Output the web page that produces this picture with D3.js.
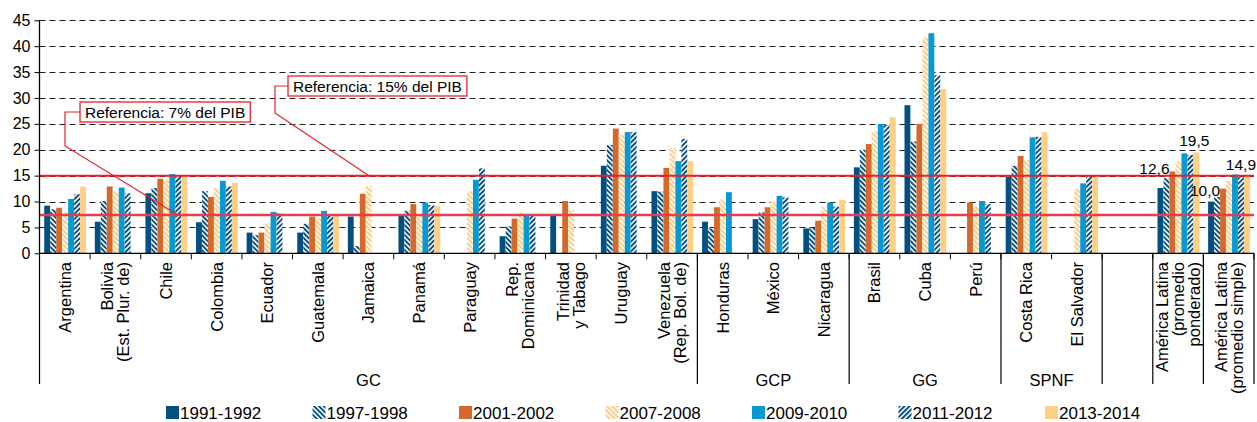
<!DOCTYPE html>
<html>
<head>
<meta charset="utf-8">
<script src="https://cdn.jsdelivr.net/npm/d3@7"></script>
<style>
  body { margin: 0; background: #fff; }
  svg { display: block; font-family: "Liberation Sans", Arial, sans-serif; }
</style>
</head>
<body>
<svg width="1257" height="422"></svg>
<script>
// categories (\n = line break in the rotated label)
var categories = ['Argentina', 'Bolivia\n(Est. Plur. de)', 'Chile', 'Colombia', 'Ecuador', 'Guatemala',
  'Jamaica', 'Panamá', 'Paraguay', 'Rep.\nDominicana', 'Trinidad\ny Tabago', 'Uruguay',
  'Venezuela\n(Rep. Bol. de)', 'Honduras', 'México', 'Nicaragua', 'Brasil', 'Cuba', 'Perú',
  'Costa Rica', 'El Salvador', '', 'América Latina\n(promedio\nponderado)', 'América Latina\n(promedio simple)'];

var groupNames = ['GC', 'GCP', 'GG', 'SPNF', '', '', ''];
var groupSizes = [13, 3, 3, 2, 1, 1, 1];

var seriesNames = ['1991-1992', '1997-1998', '2001-2002', '2007-2008', '2009-2010', '2011-2012', '2013-2014'];

var s9192 = [9.2, 6.1, 11.6, 6.0, 4.0, 4.0, 7.1, 7.5, null, 3.3, 7.4, 16.9, 12.0, 6.1, 6.6, 4.8, 16.6, 28.6, null, 14.8, null, null, 12.6, 10.0];
var s9798 = [8.5, 10.1, 12.6, 12.0, 3.5, 5.7, 1.4, 8.2, null, 5.2, null, 20.9, 11.9, 4.8, 7.9, 4.9, 20.0, 21.6, null, 16.9, null, null, 14.5, 10.9];
var s0102 = [8.8, 12.9, 14.4, 10.9, 4.0, 7.1, 11.5, 9.5, null, 6.7, 10.1, 24.1, 16.5, 8.9, 8.9, 6.3, 21.1, 25.0, 9.8, 18.8, null, null, 15.8, 12.5];
var s0708 = [8.0, 11.8, 14.2, 12.6, 5.8, 6.8, 13.0, 7.4, 12.0, 7.9, 8.4, 22.9, 20.3, 10.4, 10.0, 9.0, 23.5, 41.7, 9.0, 18.0, 12.4, null, 17.8, 14.0];
var s0910 = [10.5, 12.7, 15.3, 14.0, 8.0, 8.2, null, 9.8, 14.2, 7.4, null, 23.4, 17.8, 11.8, 11.1, 9.8, 25.0, 42.5, 10.1, 22.4, 13.5, null, 19.3, 15.2];
var s1112 = [11.4, 11.6, 14.8, 12.9, 7.7, 7.4, null, 9.3, 16.4, 7.2, null, 23.4, 22.1, null, 10.8, 9.0, 24.8, 34.4, 9.5, 22.5, 14.8, null, 19.0, 14.7];
var s1314 = [12.9, null, 15.0, 13.6, null, 7.4, null, 9.1, null, null, null, null, 17.8, null, null, 10.3, 26.3, 31.7, null, 23.4, 14.8, null, 19.5, 14.9];
var seriesValues = [s9192, s9798, s0102, s0708, s0910, s1112, s1314];

var yTicks = [0, 5, 10, 15, 20, 25, 30, 35, 40, 45];
var refLines = [15, 7.4];

// value labels: [category index, series index, text]
var valueLabels = [[22, 0, '12,6'], [22, 6, '19,5'], [23, 0, '10,0'], [23, 6, '14,9']];

var colors = ['#034f80', '#034f80', '#d5692b', '#fdca7e', '#0699d3', '#034f80', '#fecf85'];
var hatch = [null, 'back', null, 'back', null, 'fwd', null];

var svg = d3.select('svg');
var plotL = 39.5, plotR = 1254, plotT = 20.3, plotB = 253.3;

var x = d3.scaleBand().domain(d3.range(categories.length)).range([plotL, plotR]).padding(0);
var xs = d3.scaleBand().domain(d3.range(seriesNames.length)).range([4.6, x.bandwidth() - 4]).padding(0.02);
var y = d3.scaleLinear().domain([0, 45]).range([plotB, plotT]);

// hatch patterns
var defs = svg.append('defs');
function makePattern(id, color, angle) {
  var p = defs.append('pattern').attr('id', id)
    .attr('patternUnits', 'userSpaceOnUse')
    .attr('width', 3.5).attr('height', 10)
    .attr('patternTransform', 'rotate(' + angle + ')');
  p.append('rect').attr('width', 3.5).attr('height', 10).attr('fill', '#fff');
  p.append('rect').attr('width', 1.9).attr('height', 10).attr('fill', color);
}
seriesNames.forEach(function(s, i) {
  if (hatch[i]) makePattern('h' + i, colors[i], hatch[i] === 'back' ? -45 : 45);
});
function fillOf(i) { return hatch[i] ? 'url(#h' + i + ')' : colors[i]; }

// gridlines
svg.append('g').selectAll('line').data(yTicks.filter(function(d) { return d > 0; })).enter()
  .append('line')
  .attr('x1', plotL).attr('x2', plotR)
  .attr('y1', function(d) { return Math.round(y(d)) + 0.5; })
  .attr('y2', function(d) { return Math.round(y(d)) + 0.5; })
  .attr('stroke', '#222').attr('stroke-width', 1).attr('stroke-dasharray', '6,4');

// bars
var barData = [];
seriesValues.forEach(function(vals, si) {
  vals.forEach(function(v, ci) {
    if (v !== null) barData.push({ s: si, c: ci, v: v });
  });
});
svg.append('g').selectAll('rect').data(barData).enter()
  .append('rect')
  .attr('x', function(d) { return x(d.c) + xs(d.s); })
  .attr('width', xs.bandwidth())
  .attr('y', function(d) { return y(d.v); })
  .attr('height', function(d) { return y(0) - y(d.v); })
  .attr('fill', function(d) { return fillOf(d.s); });

// reference lines
svg.append('g').selectAll('line').data(refLines).enter()
  .append('line')
  .attr('x1', plotL).attr('x2', plotR)
  .attr('y1', function(d) { return y(d); }).attr('y2', function(d) { return y(d); })
  .attr('stroke', function(d, i) { return i === 0 ? '#e8202a' : '#e2404e'; })
  .attr('stroke-width', function(d, i) { return i === 0 ? 2 : 2.6; });

// y axis
var yAxis = svg.append('g').attr('transform', 'translate(' + plotL + ',0)')
  .call(d3.axisLeft(y).tickValues(yTicks).tickSize(5).tickPadding(4));
yAxis.select('.domain').remove();
yAxis.selectAll('line').attr('stroke', '#000');
yAxis.selectAll('text').attr('font-size', 16).attr('fill', '#000')
  .attr('font-family', '"Liberation Sans", Arial, sans-serif');
svg.append('line').attr('x1', plotL).attr('x2', plotL).attr('y1', plotT).attr('y2', plotB)
  .attr('stroke', '#000').attr('stroke-width', 1.3);

// x axis line + short ticks
svg.append('line').attr('x1', plotL).attr('x2', plotR).attr('y1', plotB).attr('y2', plotB)
  .attr('stroke', '#000').attr('stroke-width', 1.3);
svg.append('g').selectAll('line').data(d3.range(categories.length + 1)).enter()
  .append('line')
  .attr('x1', function(i) { return plotL + i * x.step(); })
  .attr('x2', function(i) { return plotL + i * x.step(); })
  .attr('y1', plotB).attr('y2', plotB + 6)
  .attr('stroke', '#000');

// group separators and names
var bounds = [0];
groupSizes.forEach(function(n, i) { bounds.push(bounds[i] + n); });
svg.append('g').selectAll('line').data(bounds).enter()
  .append('line')
  .attr('x1', function(b) { return plotL + b * x.step(); })
  .attr('x2', function(b) { return plotL + b * x.step(); })
  .attr('y1', plotB).attr('y2', 384)
  .attr('stroke', '#000').attr('stroke-width', 1.2);
svg.append('g').selectAll('text').data(groupNames).enter()
  .append('text')
  .attr('x', function(g, i) { return plotL + (bounds[i] + groupSizes[i] / 2) * x.step(); })
  .attr('y', 386)
  .attr('text-anchor', 'middle').attr('font-size', 16.5)
  .text(function(g) { return g; });

// category labels, rotated
var lh = 16;
var labels = svg.append('g').selectAll('text').data(categories).enter()
  .append('text')
  .attr('transform', function(c, i) {
    return 'translate(' + (x(i) + x.bandwidth() / 2) + ',262) rotate(-90)';
  })
  .attr('text-anchor', 'end').attr('font-size', 16.5);
labels.each(function(c) {
  var lines = c.split('\n');
  var t = d3.select(this);
  lines.forEach(function(l, k) {
    t.append('tspan').attr('x', 0)
      .attr('y', (k - (lines.length - 1) / 2) * lh + 6)
      .text(l);
  });
});

// value labels
var labelShift = { '12,6': [-6, -14], '19,5': [-2, -6], '10,0': [-6, -6], '14,9': [-6, -6] };
svg.append('g').selectAll('text').data(valueLabels).enter()
  .append('text')
  .attr('x', function(d) { return x(d[0]) + xs(d[1]) + xs.bandwidth() / 2 + labelShift[d[2]][0]; })
  .attr('y', function(d) { return y(seriesValues[d[1]][d[0]]) + labelShift[d[2]][1]; })
  .attr('text-anchor', 'middle').attr('font-size', 15.5)
  .text(function(d) { return d[2]; });

// reference annotations
var notes = [
  { text: 'Referencia: 15% del PIB', ref: 15, bx: 288, by: 76, kx: 275, ky: 113, ex: 369 },
  { text: 'Referencia: 7% del PIB', ref: 7.4, bx: 80, by: 102, kx: 65, ky: 146, ex: 178 }
];
var ng = svg.append('g').selectAll('g').data(notes).enter().append('g');
ng.append('polyline')
  .attr('points', function(d) {
    return [[d.bx, d.by + 10], [d.kx, d.by + 10], [d.kx, d.ky], [d.ex, y(d.ref)]].join(' ');
  })
  .attr('fill', 'none').attr('stroke', '#e8202a').attr('stroke-width', 1.2);
ng.append('text')
  .attr('x', function(d) { return d.bx + 5; })
  .attr('y', function(d) { return d.by + 15.5; })
  .attr('font-size', 15.5)
  .text(function(d) { return d.text; })
  .each(function(d) { d.w = this.getComputedTextLength(); });
ng.insert('rect', 'text')
  .attr('x', function(d) { return d.bx; })
  .attr('y', function(d) { return d.by; })
  .attr('width', function(d) { return d.w + 10; })
  .attr('height', 20)
  .attr('fill', '#fff').attr('stroke', '#e8202a').attr('stroke-width', 1.3);

// legend
var lg = svg.append('g').selectAll('g').data(seriesNames).enter()
  .append('g')
  .attr('transform', function(s, i) { return 'translate(' + (166 + i * 146.5) + ',406)'; });
lg.append('rect').attr('width', 13).attr('height', 13)
  .attr('fill', function(s, i) { return fillOf(i); });
lg.append('text').attr('x', 14).attr('y', 13).attr('font-size', 17)
  .text(function(s) { return s; });
</script>
</body>
</html>
